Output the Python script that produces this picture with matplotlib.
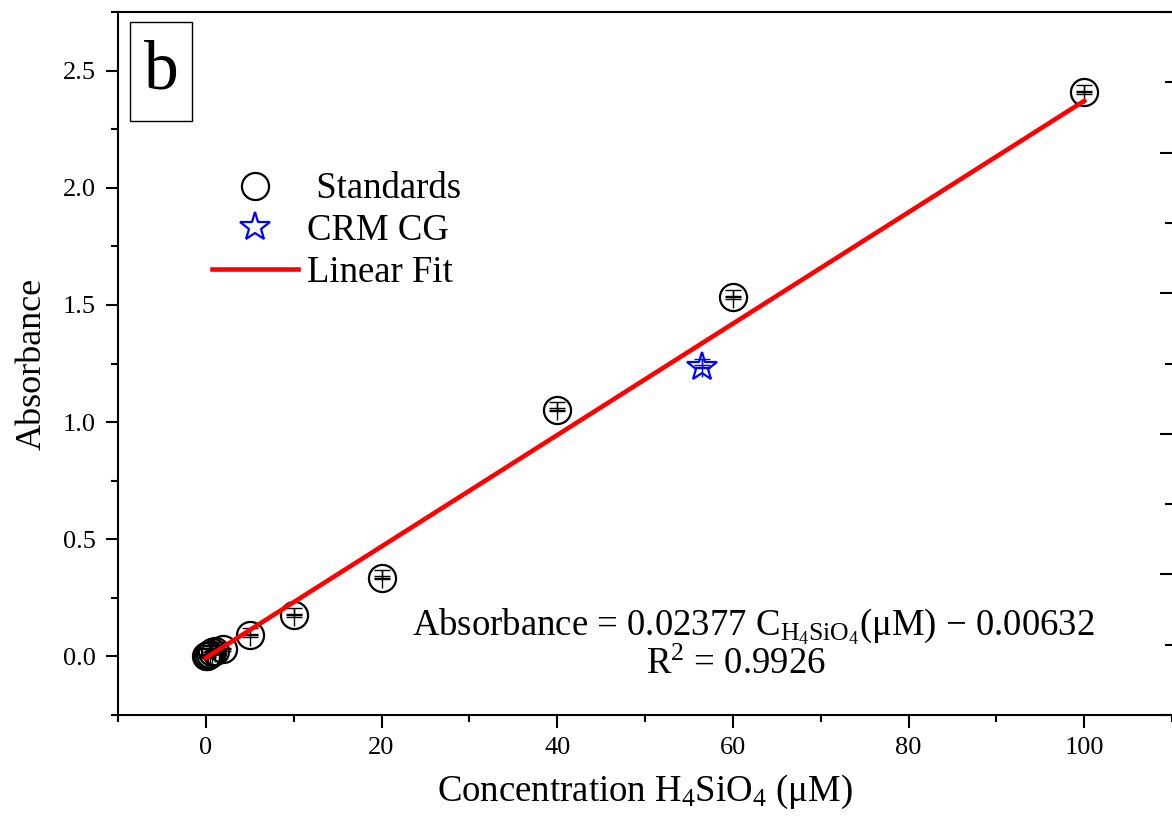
import numpy as np
import matplotlib.pyplot as plt
from matplotlib.lines import Line2D
from matplotlib.patches import Rectangle
from matplotlib.ticker import MultipleLocator

plt.rcParams['font.family'] = ['Liberation Serif', 'DejaVu Serif']
plt.rcParams['mathtext.fontset'] = 'custom'
plt.rcParams['mathtext.rm'] = 'Liberation Serif'
plt.rcParams['mathtext.it'] = 'Liberation Serif:italic'

# standards
conc = [0, 0.1, 0.25, 0.5, 0.75, 1.0, 2, 5, 10, 20, 40, 60, 100]
absb = [0.0, 0.002, 0.005, 0.011, 0.017, 0.023, 0.03, 0.09, 0.175, 0.336, 1.052, 1.533, 2.408]

# certified reference material
crm_conc = [56.5]
crm_abs = [1.237]

# linear fit
slope = 0.02377
intercept = -0.00632
fit_x = np.array([0, 100])

fig = plt.figure(figsize=(11.72, 8.25), dpi=100)
ax = fig.add_axes([118/1172, 1-715/825, 1-118/1172, (715-12)/825])

def draw_points(x, y, col, marker, ms):
    # vertical bar through the marker, top cap and the two close caps in the middle
    ax.errorbar(x, y, yerr=[[0.045]*len(x), [0.032]*len(x)], fmt='none', ecolor=col,
                elinewidth=1, capsize=0, zorder=3)
    ax.errorbar(x, y, yerr=[[0]*len(x), [0.032]*len(x)], fmt='none', ecolor=col,
                elinewidth=1, capsize=6, capthick=1, zorder=3)
    ax.errorbar(x, y, yerr=[0.006]*len(x), fmt='none', ecolor=col,
                elinewidth=1, capsize=6, capthick=1, zorder=3)
    ax.plot(x, y, ls='none', marker=marker, ms=ms, mfc='none', mec=col, mew=1.6, zorder=3)

draw_points(conc, absb, 'k', 'o', 19.5)
draw_points(crm_conc, crm_abs, '#0000ff', '*', 22)
ax.plot(fit_x, slope*fit_x + intercept, color='#ff0000', lw=3.3, zorder=4)

ax.set_xlim(-10, 110)
ax.set_ylim(-0.25, 2.75)
ax.xaxis.set_major_locator(MultipleLocator(20))
ax.xaxis.set_minor_locator(MultipleLocator(10))
ax.yaxis.set_major_locator(MultipleLocator(0.5))
ax.yaxis.set_minor_locator(MultipleLocator(0.25))
ax.tick_params(which='both', direction='out', width=1.5, labelsize=19, top=False, right=False)
ax.tick_params(axis='y', which='major', length=9, pad=7)
ax.tick_params(axis='y', which='minor', length=5)
ax.tick_params(axis='x', which='major', length=9, pad=7)
ax.tick_params(axis='x', which='minor', length=5)
for s in ax.spines.values():
    s.set_linewidth(1.5)
ax.spines['right'].set_visible(False)

ax2 = ax.twinx()
ax2.set_ylim(0, 5)
ax2.yaxis.set_major_locator(MultipleLocator(1))
ax2.yaxis.set_minor_locator(MultipleLocator(0.5))
ax2.tick_params(which='both', direction='in', width=1.5, labelright=False)
ax2.tick_params(which='major', length=9)
ax2.tick_params(which='minor', length=5)
for s in ax2.spines.values():
    s.set_visible(False)

ax.set_xlabel('Concentration H$_4$SiO$_4$ (μM)', fontsize=26.5, labelpad=10)
ax.set_ylabel('Absorbance', fontsize=26, labelpad=10)

# panel letter
fig.add_artist(Rectangle((130/1172, 1-121/825), 62/1172, 99/825, transform=fig.transFigure,
                         fill=False, ec='k', lw=1))
fig.text(161/1172, 1-72/825, 'b', fontsize=50, ha='center', va='center')

fig.text(753/1172, 1-627/825, r'Absorbance = 0.02377 C$_{\mathrm{H_4SiO_4}}$(μM) − 0.00632',
         fontsize=26.5, ha='center', va='center')
fig.text(736/1172, 1-665/825, 'R$^2$ = 0.9926', fontsize=26.5, ha='center', va='center')

handles = [
    Line2D([], [], ls='none', marker='o', ms=19.5, mfc='none', mec='k', mew=1.6),
    Line2D([], [], ls='none', marker='*', ms=22, mfc='none', mec='#0000ff', mew=1.6),
    Line2D([], [], color='#ff0000', lw=3.3),
]
fig.legend(handles, [' Standards', 'CRM CG', 'Linear Fit'], loc='upper left',
           bbox_to_anchor=(212/1172, 1-172/825), frameon=False, fontsize=26.5,
           handlelength=2.34, labelspacing=0.2, handletextpad=0.25,
           borderpad=0, borderaxespad=0)

fig.savefig('out.png', dpi=100)
